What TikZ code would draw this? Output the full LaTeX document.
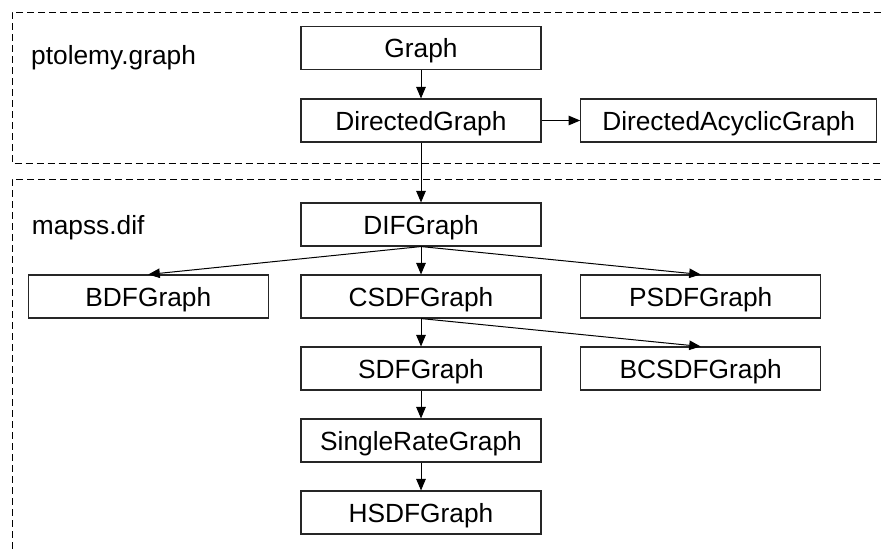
\documentclass[tikz,border=0pt]{standalone}
\usepackage{fontspec}
\setmainfont{Liberation Sans}
\usetikzlibrary{arrows.meta}
\begin{document}
\begin{tikzpicture}[x=1pt,y=-1pt,
  every node/.style={font=\fontsize{26.3}{30}\selectfont},
  cls/.style={draw=black!85, line width=1.1pt, minimum width=240pt, minimum height=43pt,
    inner sep=0pt, text height=19pt, text depth=0pt, anchor=center},
  pkg/.style={draw=black, line width=1pt, dash pattern=on 7pt off 4pt},
  inh/.style={draw=black, line width=1pt, -{Triangle[length=11.5pt,width=9.5pt]}},
  lbl/.style={anchor=base west, inner sep=0pt}]
\useasboundingbox (0,0) rectangle (881,550);

% package frames
\draw[pkg] (881,12) -- (12,12) -- (12,163.3) -- (881,163.3);
\draw[pkg] (881,179.3) -- (12,179.3) -- (12,550);

\node[lbl] (lp) at (31,64) {ptolemy.graph};
\node[lbl] (lm) at (31.7,234) {mapss.dif};

% classes
\node[cls] (g)    at (421,48)    {Graph};
\node[cls] (dg)   at (421,120.5) {DirectedGraph};
\node[cls, minimum width=296pt] (dag) at (728.7,120.5) {DirectedAcyclicGraph};
\node[cls] (dif)  at (421,224.5) {DIFGraph};
\node[cls] (bdf)  at (148.3,296.5) {BDFGraph};
\node[cls] (csdf) at (421,296.5) {CSDFGraph};
\node[cls] (psdf) at (700.7,296.5) {PSDFGraph};
\node[cls] (sdf)  at (421,368.5) {SDFGraph};
\node[cls] (bcsdf) at (700.7,368.5) {BCSDFGraph};
\node[cls] (srg)  at (421,440.5) {SingleRateGraph};
\node[cls] (hsdf) at (421,512.5) {HSDFGraph};

% inheritance arrows
\draw[inh] (g) -- (dg);
\draw[inh] (dg) -- (dag);
\draw[inh] (dg) -- (dif);
\draw[inh] (dif.south) -- (bdf.north);
\draw[inh] (dif.south) -- (csdf.north);
\draw[inh] (dif.south) -- (psdf.north);
\draw[inh] (csdf.south) -- (sdf.north);
\draw[inh] (csdf.south) -- (bcsdf.north);
\draw[inh] (sdf) -- (srg);
\draw[inh] (srg) -- (hsdf);
\end{tikzpicture}
\end{document}
